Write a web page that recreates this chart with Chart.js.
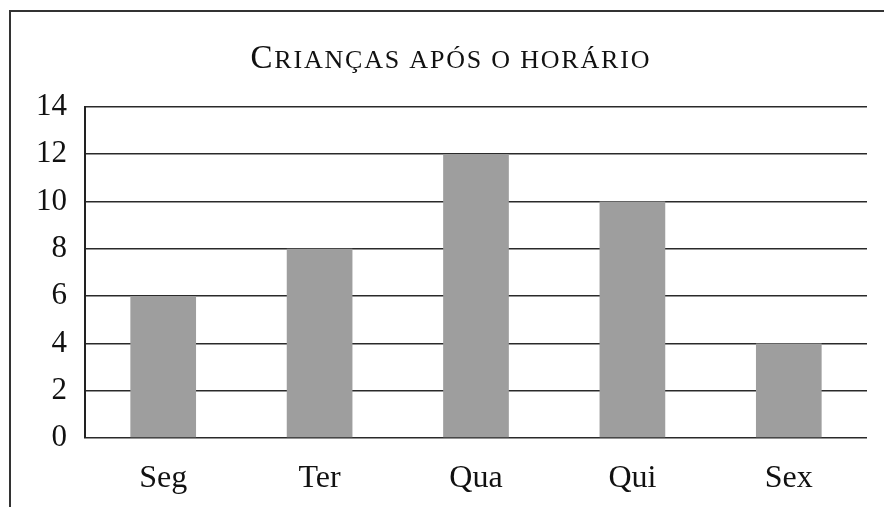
<!DOCTYPE html>
<html>
<head>
<meta charset="utf-8">
<script src="https://cdn.jsdelivr.net/npm/chart.js@4"></script>
<style>
  html, body { margin: 0; padding: 0; background: #fff; }
  #wrap { position: relative; width: 884px; height: 507px; overflow: hidden; }
  #frame { position: absolute; left: 9px; top: 10px; width: 960px; height: 600px; border: 2px solid #333; box-sizing: border-box; }
  canvas { position: absolute; left: 0; top: 0; }
</style>
</head>
<body>
<div id="wrap">
  <div id="frame"></div>
  <canvas id="chart" width="884" height="507"></canvas>
</div>
<script>
// Crianças após o horário
const titleText = 'Crianças após o horário';
const days = ['Seg', 'Ter', 'Qua', 'Qui', 'Sex'];
const children = [6, 8, 12, 10, 4];
const yTicks = [0, 2, 4, 6, 8, 10, 12, 14];

const serif = '"Liberation Serif", "DejaVu Serif", serif';

// small-caps title: real capitals full size, lower case drawn as smaller capitals
const smallCapsTitle = {
    id: 'smallCapsTitle',
    afterDraw(chart) {
        const ctx = chart.ctx;
        const big = 33, small = 26;
        const parts = [];
        for (const ch of titleText) {
            const isCap = ch !== ch.toLowerCase();
            parts.push({ t: ch.toUpperCase(), s: isCap ? big : small });
        }
        ctx.save();
        ctx.fillStyle = '#111';
        ctx.textBaseline = 'alphabetic';
        ctx.textAlign = 'left';
        let total = 0;
        const spacing = 1.8;
        parts.forEach(p => {
            ctx.font = p.s + 'px ' + serif;
            p.w = ctx.measureText(p.t).width + spacing;
            total += p.w;
        });
        total -= spacing;
        let x = 450 - total / 2;
        parts.forEach(p => {
            ctx.font = p.s + 'px ' + serif;
            ctx.fillText(p.t, x, 68);
            x += p.w;
        });
        ctx.restore();
    }
};

new Chart(document.getElementById('chart'), {
    type: 'bar',
    data: {
        labels: days,
        datasets: [{
            data: children,
            backgroundColor: '#9e9e9e',
            borderWidth: 0,
            categoryPercentage: 1,
            barPercentage: 0.42
        }]
    },
    options: {
        responsive: false,
        animation: false,
        layout: { padding: { left: 0, right: 17, top: 107, bottom: 0 } },
        plugins: {
            legend: { display: false },
            tooltip: { enabled: false },
            title: { display: false }
        },
        scales: {
            x: {
                grid: { display: false },
                border: { display: false },
                ticks: { color: '#111', padding: 13, font: { family: serif, size: 32 } },
                afterFit: s => { s.height = 507 - 438; }
            },
            y: {
                min: 0,
                max: 14,
                afterBuildTicks: s => { s.ticks = yTicks.map(v => ({ value: v })); },
                grid: { color: '#2a2a2a', lineWidth: 1.6, drawTicks: false },
                border: { display: true, color: '#222', width: 2 },
                ticks: { color: '#111', padding: 18, font: { family: serif, size: 31 } },
                afterFit: s => { s.width = 85; }
            }
        }
    },
    plugins: [smallCapsTitle]
});
</script>
</body>
</html>
